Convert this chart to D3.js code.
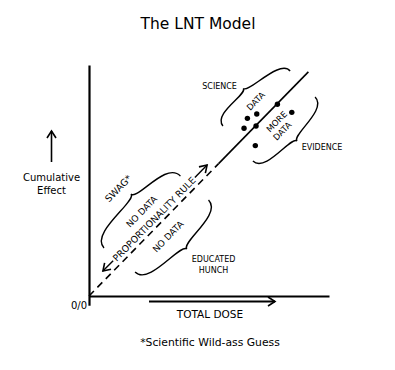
<!DOCTYPE html>
<html lang="en">
<head>
<meta charset="utf-8">
<title>The LNT Model</title>
<script src="https://cdnjs.cloudflare.com/ajax/libs/d3/7.8.5/d3.min.js"></script>
<style>
  body { margin: 0; background: #fff; }
  svg { font-family: "DejaVu Sans", sans-serif; }
</style>
</head>
<body>
<div id="chart"></div>
<script>
// the model line (dose, effect), arbitrary units 0-100; dashed up to index 1, solid after
var lineDose   = [0, 54, 91.4];
var lineEffect = [0, 57.3, 97];

// observed points
var dotDose   = [66.0, 69.9, 78.5, 84.5, 64.6, 69.6, 69.3];
var dotEffect = [76.9, 78.8, 83.0, 79.5, 72.6, 73.6, 65.1];

// braces: [end, end, tip] in dose/effect units
var braces = [
  [[83.8, 97.4], [55.8, 73.6], [64.3, 89.9]],
  [[68.3, 58.4], [94.2, 86.1], [86.7, 67.1]],
  [[38.1, 51.9], [6.25, 20.8], [17.5, 44.2]],
  [[19.2, 10.4], [49.8, 41.6], [40.8, 20.3]]
];

// labels: text, dose, effect, follows the line slope
var labels = [
  ["SCIENCE", 54.4, 90.9, false],
  ["EVIDENCE", 97.1, 64.5, false],
  ["EDUCATED", 51.9, 15.8, false],
  ["HUNCH", 51.9, 11.0, false],
  ["DATA", 69.5, 84.4, true],
  ["MORE", 78.2, 75.5, true],
  ["DATA", 80.5, 71.4, true],
  ["SWAG*", 12.2, 46.6, true],
  ["NO DATA", 22.0, 36.5, true],
  ["NO DATA", 33.0, 25.7, true]
];

// the proportionality rule arrow (both ends)
var ruleDose   = [5.8, 49.2];
var ruleEffect = [10.8, 56.7];

var width = 395, height = 370;
var labelSize = { "SWAG*": 9.5, "NO DATA": 9 };

var x = d3.scaleLinear().domain([0, 100]).range([89, 329]);
var y = d3.scaleLinear().domain([0, 100]).range([296, 65]);

var svg = d3.select("#chart").append("svg")
  .attr("width", width)
  .attr("height", height);

svg.append("defs").append("marker")
  .attr("id", "chev")
  .attr("viewBox", "-10 -6 12 12")
  .attr("refX", 0).attr("refY", 0)
  .attr("markerWidth", 12).attr("markerHeight", 12)
  .attr("markerUnits", "userSpaceOnUse")
  .attr("orient", "auto")
  .append("path")
  .attr("d", "M-7,-4.5L0,0L-7,4.5")
  .attr("fill", "none")
  .attr("stroke", "#000")
  .attr("stroke-width", 1.6);

// title
svg.append("text")
  .attr("x", 198).attr("y", 24)
  .attr("text-anchor", "middle")
  .attr("dominant-baseline", "central")
  .attr("font-size", 15.5)
  .text("The LNT Model");

// axes, no ticks
var xAxis = svg.append("g")
  .attr("transform", "translate(0," + y(0) + ")")
  .call(d3.axisBottom(x).tickValues([]).tickSizeOuter(0));
xAxis.select(".domain").attr("stroke-width", 2.2);

var yAxisScale = y.copy().domain([-4, 100]).range([y(-4), y(100)]);
var yAxis = svg.append("g")
  .attr("transform", "translate(" + x(0) + ",0)")
  .call(d3.axisLeft(yAxisScale).tickValues([]).tickSizeOuter(0));
yAxis.select(".domain").attr("stroke-width", 2.2);

svg.append("text")
  .attr("x", 87).attr("y", 305)
  .attr("text-anchor", "end")
  .attr("dominant-baseline", "central")
  .attr("font-size", 10)
  .text("0/0");

// axis titles with arrows
svg.append("line")
  .attr("x1", 51.5).attr("y1", 162).attr("x2", 51.5).attr("y2", 131)
  .attr("stroke", "#000").attr("stroke-width", 1.6)
  .attr("marker-end", "url(#chev)");
svg.append("text")
  .attr("x", 51.5).attr("y", 177)
  .attr("text-anchor", "middle")
  .attr("dominant-baseline", "central")
  .attr("font-size", 10)
  .text("Cumulative");
svg.append("text")
  .attr("x", 51.5).attr("y", 190.5)
  .attr("text-anchor", "middle")
  .attr("dominant-baseline", "central")
  .attr("font-size", 10)
  .text("Effect");

svg.append("line")
  .attr("x1", 149).attr("y1", 301.5).attr("x2", 275).attr("y2", 301.5)
  .attr("stroke", "#000").attr("stroke-width", 2)
  .attr("marker-end", "url(#chev)");
svg.append("text")
  .attr("x", 210).attr("y", 313.5)
  .attr("text-anchor", "middle")
  .attr("dominant-baseline", "central")
  .attr("font-size", 10.5)
  .text("TOTAL DOSE");

svg.append("text")
  .attr("x", 210).attr("y", 342)
  .attr("text-anchor", "middle")
  .attr("dominant-baseline", "central")
  .attr("font-size", 10.8)
  .text("*Scientific Wild-ass Guess");

// model line
var pts = lineDose.map(function(d, i) { return [x(d), y(lineEffect[i])]; });
var line = d3.line();

svg.append("path")
  .attr("d", line(pts.slice(0, 2)))
  .attr("fill", "none")
  .attr("stroke", "#000")
  .attr("stroke-width", 1.6)
  .attr("stroke-dasharray", "7,5");
svg.append("path")
  .attr("d", line(pts.slice(1)))
  .attr("fill", "none")
  .attr("stroke", "#000")
  .attr("stroke-width", 1.6);

var angle = Math.atan2(pts[2][1] - pts[0][1], pts[2][0] - pts[0][0]) * 180 / Math.PI;

// dots
svg.append("g").selectAll("circle")
  .data(dotDose)
  .join("circle")
    .attr("cx", function(d) { return x(d); })
    .attr("cy", function(d, i) { return y(dotEffect[i]); })
    .attr("r", 2.7)
    .attr("fill", "#000");

// curly braces: each half is a cubic leaving the end outward and arriving at the tip
function bracePath(e1, e2, c) {
  var dx = e2[0] - e1[0], dy = e2[1] - e1[1], len = Math.hypot(dx, dy);
  var nx = -dy / len, ny = dx / len;
  var w = (c[0] - e1[0]) * nx + (c[1] - e1[1]) * ny;
  function half(e) {
    return "M" + e[0] + "," + e[1] +
      "C" + (e[0] + 1.0 * w * nx) + "," + (e[1] + 1.0 * w * ny) + " " +
      (c[0] - 0.45 * w * nx) + "," + (c[1] - 0.45 * w * ny) + " " +
      c[0] + "," + c[1];
  }
  return half(e1) + half(e2);
}

svg.append("g").selectAll("path")
  .data(braces)
  .join("path")
    .attr("d", function(b) {
      var p = b.map(function(v) { return [x(v[0]), y(v[1])]; });
      return bracePath(p[0], p[1], p[2]);
    })
    .attr("fill", "none")
    .attr("stroke", "#000")
    .attr("stroke-width", 1.4);

// labels
svg.append("g").selectAll("text")
  .data(labels)
  .join("text")
    .attr("transform", function(d) {
      return "translate(" + x(d[1]) + "," + y(d[2]) + ")" + (d[3] ? " rotate(" + angle + ")" : "");
    })
    .attr("text-anchor", "middle")
    .attr("dominant-baseline", "central")
    .attr("font-size", function(d) { return labelSize[d[0]] || (d[3] ? 8.5 : 8); })
    .text(function(d) { return d[0]; });

// proportionality rule: double arrow broken by its label
var a0 = [x(ruleDose[0]), y(ruleEffect[0])],
    a1 = [x(ruleDose[1]), y(ruleEffect[1])];
var mid = [(a0[0] + a1[0]) / 2 - 1, (a0[1] + a1[1]) / 2 + 1];
var ruleText = svg.append("text")
  .attr("transform", "translate(" + mid[0] + "," + mid[1] + ") rotate(" + angle + ")")
  .attr("text-anchor", "middle")
  .attr("dominant-baseline", "central")
  .attr("font-size", 9.3)
  .text("PROPORTIONALITY RULE");
var half = ruleText.node().getComputedTextLength() / 2 + 1.5;
var ux = (a1[0] - a0[0]), uy = (a1[1] - a0[1]), ul = Math.hypot(ux, uy);
ux /= ul; uy /= ul;
[[a0, -1], [a1, 1]].forEach(function(s) {
  svg.append("line")
    .attr("x1", mid[0] + s[1] * half * ux).attr("y1", mid[1] + s[1] * half * uy)
    .attr("x2", s[0][0]).attr("y2", s[0][1])
    .attr("stroke", "#000").attr("stroke-width", 1.4)
    .attr("marker-end", "url(#chev)");
});
</script>
</body>
</html>
